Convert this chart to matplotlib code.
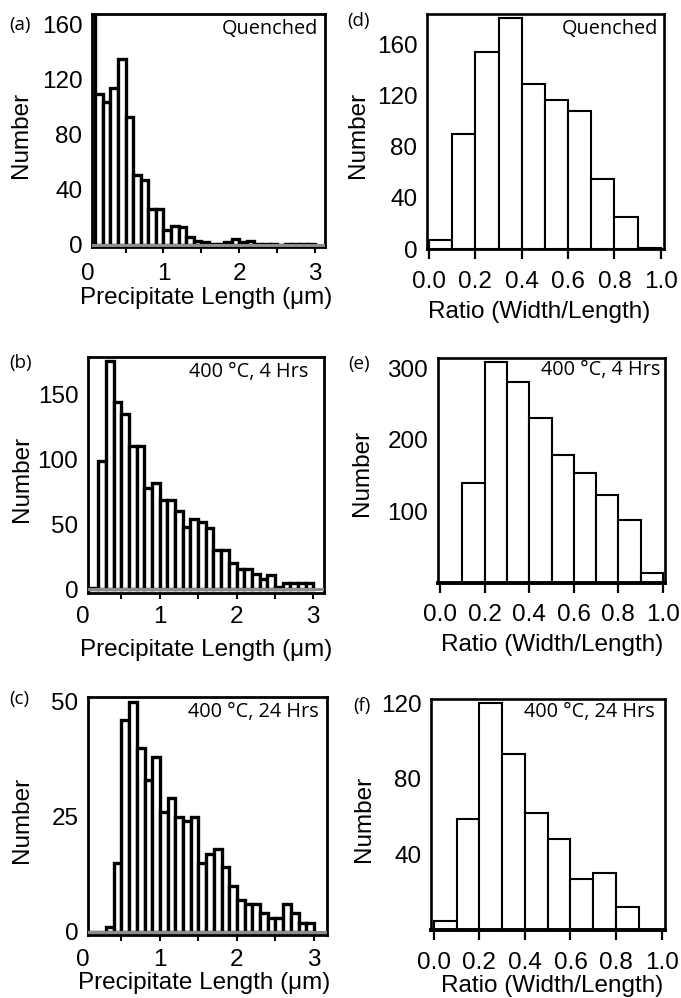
import matplotlib
matplotlib.use("Agg")
import matplotlib.pyplot as plt
import numpy as np

plt.rcParams['font.family'] = ['Liberation Sans', 'DejaVu Sans']

# bin edges (0.1 wide)
len_edges = np.round(np.arange(0, 3.01, 0.1), 2)
ratio_edges = np.round(np.arange(0, 1.01, 0.1), 2)

# counts
len_quenched = [175, 110, 104, 114, 135, 93, 51, 47, 26, 26,
                11, 14, 13, 6, 3, 2, 1, 1, 2, 4,
                2, 3, 1, 1, 1, 0, 1, 1, 1, 1]
len_4h = [0, 1, 99, 176, 144, 135, 110, 110, 78, 82,
          69, 69, 60, 48, 54, 52, 47, 30, 30, 20,
          16, 16, 12, 8, 11, 2, 5, 5, 5, 5]
len_24h = [0, 0, 0, 1, 15, 46, 50, 40, 33, 38,
           26, 29, 25, 24, 25, 15, 17, 18, 14, 10,
           7, 6, 6, 4, 3, 3, 6, 4, 2, 2]
ratio_quenched = [7, 90, 154, 181, 129, 117, 108, 55, 25, 1]
ratio_4h = [0, 140, 308, 280, 230, 178, 153, 123, 88, 14]
ratio_24h = [5, 59, 120, 93, 62, 48, 27, 30, 12, 0]

notes = ['Quenched', '400 °C, 4 Hrs', '400 °C, 24 Hrs']
letters = ['(a)', '(b)', '(c)', '(d)', '(e)', '(f)']

W, H = 681, 998
fig = plt.figure(figsize=(W / 100, H / 100), dpi=100)
FS = 17.5


def box(l, t, r, b):
    return [l / W, 1 - b / H, (r - l) / W, (b - t) / H]


def ftext(x, y, s, **kw):
    fig.text(x / W, 1 - y / H, s, **kw)


def len_panel(pos, counts, xlim, ylim, yticks, pad):
    ax = fig.add_axes(box(*pos))
    ax.bar(len_edges[:-1], counts, width=0.1, align='edge', color='white',
           edgecolor='black', linewidth=2.4, zorder=2)
    ax.axhline(0, color='0.55', lw=2.2, zorder=3)
    ax.set_xlim(*xlim)
    ax.set_ylim(*ylim)
    ax.set_xticks([1, 2, 3])
    ax.set_xticks([0.5, 1.5, 2.5], minor=True)
    ax.set_yticks(yticks)
    ax.tick_params(axis='x', which='both', direction='out', length=4.3,
                   width=1.5, labelsize=FS, pad=pad)
    ax.tick_params(axis='y', length=0, labelsize=FS, pad=7)
    for s in ax.spines.values():
        s.set_linewidth(2)
    # x=0 sits just left of the axis, label it by hand
    ax.annotate('0', xy=(0, 0), xycoords=ax.get_xaxis_transform(),
                xytext=(0, -(4.3 + pad)), textcoords='offset points',
                ha='center', va='top', fontsize=FS)
    return ax


def ratio_panel(pos, counts, xlim, ylim, yticks, pad, bottom_lw):
    ax = fig.add_axes(box(*pos))
    ax.bar(ratio_edges[:-1], counts, width=0.1, align='edge', color='white',
           edgecolor='black', linewidth=1.5, zorder=2)
    ax.set_xlim(*xlim)
    ax.set_ylim(*ylim)
    ax.set_xticks(np.round(np.arange(0, 1.01, 0.2), 1))
    ax.set_xticklabels(['0.0', '0.2', '0.4', '0.6', '0.8', '1.0'])
    ax.set_yticks(yticks)
    ax.tick_params(axis='x', direction='out', length=7.2, width=1.6,
                   labelsize=FS, pad=pad)
    ax.tick_params(axis='y', length=0, labelsize=FS, pad=7)
    for s in ax.spines.values():
        s.set_linewidth(1.9)
    ax.spines['bottom'].set_linewidth(bottom_lw)
    return ax


len_panel((92, 14, 325, 247), len_quenched, (0.057, 3.13), (-1.5, 168),
          [0, 40, 80, 120, 160], 7.4)
len_panel((88, 357, 324, 593), len_4h, (0.065, 3.14), (-2.8, 178.7),
          [0, 50, 100, 150], 5.3)
len_panel((88, 697, 327, 935), len_24h, (0.065, 3.17), (-0.7, 51.0),
          [0, 25, 50], 6.0)
ratio_panel((427, 14, 664, 249), ratio_quenched, (-0.009, 1.014), (0, 184),
            [0, 40, 80, 120, 160], 9.0, 2.0)
ratio_panel((438, 358, 665, 583), ratio_4h, (-0.01, 1.01), (0, 314),
            [100, 200, 300], 8.1, 2.8)
ratio_panel((431, 699, 665, 930), ratio_24h, (-0.012, 1.015), (0, 122.3),
            [40, 80, 120], 8.8, 2.8)

# axis titles
for x, y in [(21, 135), (22, 479), (22, 820), (358, 135), (362, 473), (364, 819)]:
    ftext(x, y, 'Number', rotation=90, ha='center', va='center', fontsize=FS)
for x, y in [(206, 298), (206, 650), (204, 983)]:
    ftext(x, y, 'Precipitate Length (μm)', ha='center', va='center', fontsize=FS)
for x, y in [(539, 312), (552, 645), (552, 986)]:
    ftext(x, y, 'Ratio (Width/Length)', ha='center', va='center', fontsize=FS)

# condition notes
note_pos = [(318, 29), (308, 372), (319, 712), (658, 29), (660, 370), (655, 712)]
for i, (x, y) in enumerate(note_pos):
    ftext(x, y, notes[i % 3], ha='right', va='center', fontsize=14.3,
          family=['Open Sans', 'DejaVu Sans'])

# panel letters
letter_pos = [(20, 25), (21, 363), (19, 699), (358, 21), (359, 364), (362, 706)]
for s, (x, y) in zip(letters, letter_pos):
    ftext(x, y, s, ha='center', va='center', fontsize=13.5,
          family=['Open Sans', 'DejaVu Sans'])

fig.savefig('out.png', dpi=100)
